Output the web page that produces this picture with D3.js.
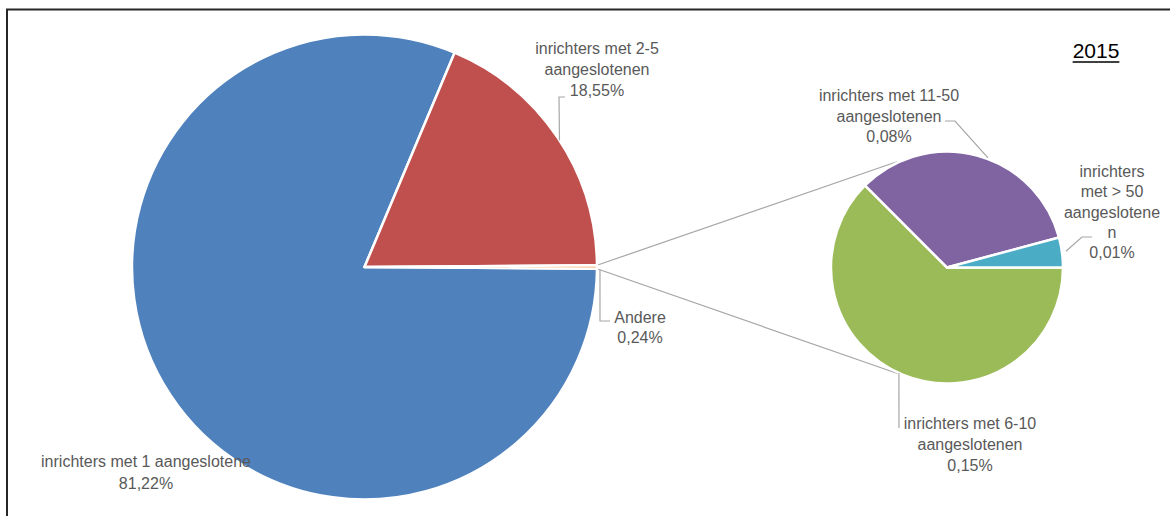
<!DOCTYPE html>
<html>
<head>
<meta charset="utf-8">
<script src="https://cdn.jsdelivr.net/npm/d3@7"></script>
<style>
  body { margin: 0; background: #fff; }
  svg { display: block; }
  text { font-family: "Liberation Sans", Arial, sans-serif; }
</style>
</head>
<body>
<svg id="chart" width="1170" height="516"></svg>
<script>
// Share of "inrichters" by number of connected parties (2015)
const mainCategories = ["inrichters met 1 aangeslotene", "inrichters met 2-5\naangeslotenen", "Andere"];
const mainValues = [81.22, 18.55, 0.24];

// Breakdown of "Andere"
const subCategories = ["inrichters met 6-10\naangeslotenen", "inrichters met 11-50\naangeslotenen", "inrichters\nmet > 50\naangeslotene\nn"];
const subValues = [0.15, 0.08, 0.01];

const yearTitle = "2015";

const mainColors = ["#4F81BD", "#C0504D", "#F79646"];
const subColors = ["#9BBB59", "#8064A2", "#4BACC6"];

const svg = d3.select("#chart");
const W = 1170, H = 516;
const deg = Math.PI / 180;

// chart frame
svg.append("rect")
  .attr("x", 7).attr("y", 9.5)
  .attr("width", W + 20).attr("height", H + 20)
  .attr("fill", "none").attr("stroke", "#262626").attr("stroke-width", 2);

const fmt = v => d3.format(".2f")(v).replace(".", ",") + "%";

const main = { cx: 364.5, cy: 267, r: 232.5 };
const sub = { cx: 947, cy: 267.5, r: 116 };

const mainTotal = d3.sum(mainValues);
// the "Andere" slice is centred on the 3 o'clock position
const mainStart = Math.PI / 2 + (mainValues[2] / mainTotal) * Math.PI;

const mainPie = d3.pie().sort(null).value(d => d)
  .startAngle(mainStart).endAngle(mainStart + 2 * Math.PI);
const subPie = d3.pie().sort(null).value(d => d)
  .startAngle(Math.PI / 2).endAngle(Math.PI / 2 + 2 * Math.PI);

const mainArcs = mainPie(mainValues);
const subArcs = subPie(subValues);

const mainArc = d3.arc().innerRadius(0).outerRadius(main.r);
const subArc = d3.arc().innerRadius(0).outerRadius(sub.r);

const point = (c, angle, extra = 0) => [
  c.cx + (c.r + extra) * Math.sin(angle),
  c.cy - (c.r + extra) * Math.cos(angle)
];

// connector lines from "Andere" to the secondary pie
const other = mainArcs[2];
const connectors = [
  [point(main, other.startAngle), point(sub, -25 * deg, 1)],
  [point(main, other.endAngle), point(sub, 205 * deg, 1)]
];
svg.append("g").selectAll("line").data(connectors).join("line")
  .attr("x1", d => d[0][0]).attr("y1", d => d[0][1])
  .attr("x2", d => d[1][0]).attr("y2", d => d[1][1])
  .attr("stroke", "#A6A6A6").attr("stroke-width", 1.2);

svg.append("g").attr("transform", `translate(${main.cx},${main.cy})`)
  .selectAll("path").data(mainArcs).join("path")
  .attr("d", mainArc)
  .attr("fill", (d, i) => mainColors[i])
  .attr("stroke", "#fff").attr("stroke-width", 2.5).attr("stroke-linejoin", "round");

svg.append("g").attr("transform", `translate(${sub.cx},${sub.cy})`)
  .selectAll("path").data(subArcs).join("path")
  .attr("d", subArc)
  .attr("fill", (d, i) => subColors[i])
  .attr("stroke", "#fff").attr("stroke-width", 2.5).attr("stroke-linejoin", "round");

// data labels: centre x, first baseline, leader (label end, elbow, anchor on pie)
const labels = [
  { pie: main, text: mainCategories[0], value: mainValues[0], x: 146, y: 467, lh: 22 },
  { pie: main, text: mainCategories[1], value: mainValues[1], x: 597, y: 54, lh: 21,
    leader: [[565, 97], [559, 97]], anchor: 57 * deg, off: 0 },
  { pie: main, text: mainCategories[2], value: mainValues[2], x: 640, y: 323, lh: 20,
    leader: [[610, 321], [600, 321]], anchor: 90.7 * deg, off: 3 },
  { pie: sub, text: subCategories[0], value: subValues[0], x: 970, y: 429, lh: 21,
    leader: [[899, 428]], anchor: 204.5 * deg, off: 0 },
  { pie: sub, text: subCategories[1], value: subValues[1], x: 889, y: 101, lh: 20.5,
    leader: [[945, 121], [955, 121]], anchor: 20.5 * deg, off: 1 },
  { pie: sub, text: subCategories[2], value: subValues[2], x: 1112, y: 177, lh: 20.3,
    leader: [[1092, 237], [1082, 237]], anchor: 82.2 * deg, off: 4 }
];

const leaderG = svg.append("g");
labels.filter(l => l.leader).forEach(l => {
  const pts = l.leader.concat([point(l.pie, l.anchor, l.off)]);
  leaderG.append("path")
    .attr("d", d3.line()(pts))
    .attr("fill", "none").attr("stroke", "#A6A6A6").attr("stroke-width", 1.2);
});

const labelG = svg.append("g");
labels.forEach(l => {
  const lines = l.text.split("\n").concat([fmt(l.value)]);
  const t = labelG.append("text")
    .attr("text-anchor", "middle")
    .attr("font-size", 16)
    .attr("fill", "#595959");
  lines.forEach((s, i) => {
    t.append("tspan").attr("x", l.x).attr("y", l.y + i * l.lh).text(s);
  });
});

// year title, underlined
const title = svg.append("text")
  .attr("x", 1096).attr("y", 58)
  .attr("text-anchor", "middle")
  .attr("font-size", 21)
  .attr("fill", "#000")
  .text(yearTitle);
const tw = title.node().getComputedTextLength();
svg.append("line")
  .attr("x1", 1096 - tw / 2).attr("x2", 1096 + tw / 2)
  .attr("y1", 62).attr("y2", 62)
  .attr("stroke", "#000").attr("stroke-width", 1.5);
</script>
</body>
</html>
